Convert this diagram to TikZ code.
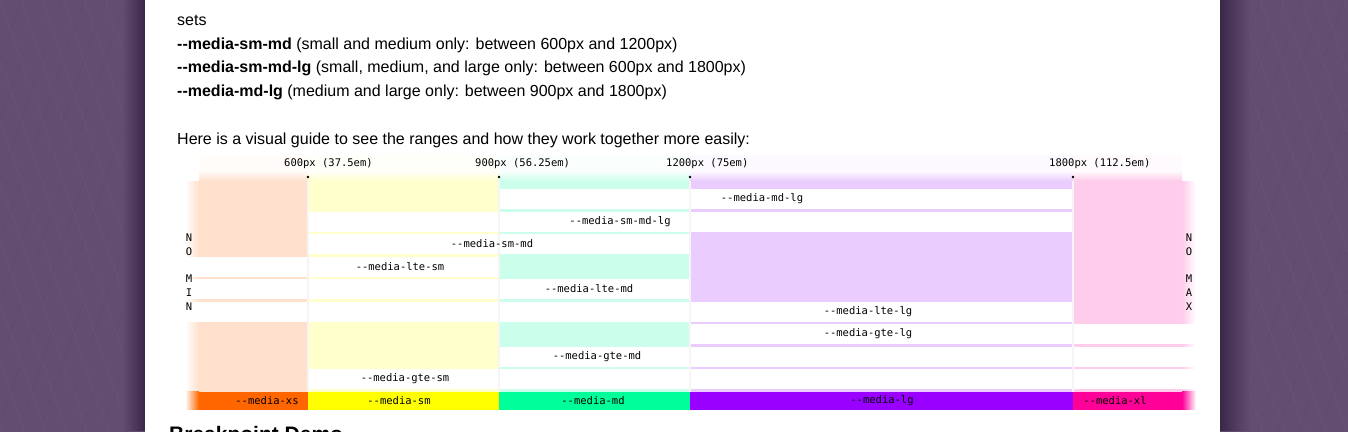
\documentclass[tikz,border=0pt]{standalone}
\usepackage{fontspec}
\setmainfont{Liberation Sans}[Ligatures=TeXOff]
\newfontfamily\monofont{DejaVu Sans Mono}[Ligatures=TeXOff]
\usetikzlibrary{positioning}

\definecolor{bgpurple}{HTML}{634E71}
\definecolor{bgdark}{HTML}{3B2849}
\definecolor{cxs}{HTML}{FF6600}
\definecolor{csm}{HTML}{FFFF00}
\definecolor{cmd}{HTML}{00FF99}
\definecolor{clg}{HTML}{9900FF}
\definecolor{cxl}{HTML}{FF0099}

\begin{document}
\begin{tikzpicture}[x=1pt, y=-1pt,
    body/.style={anchor=base west, inner sep=0pt, font=\fontsize{16}{19}\selectfont},
    mq/.style={inner sep=0pt, font=\monofont\fontsize{10.5}{13.8}\selectfont}]
    \useasboundingbox (0,0) rectangle (1348,431);
    \clip (0,0) rectangle (1348,431);

    % 背景
    \fill[bgpurple] (-5,-5) rectangle (1353,436);
    \begin{scope}
      \clip (0,0) rectangle (145,431) (1220,0) rectangle (1348,431);
      \foreach \i in {-10,...,70} {
        \draw[white, opacity=0.05] (\i*21,0) -- ++(150,431);
        \draw[black, opacity=0.05] (\i*21,0) -- ++(-150,431);
      }
      \shade[left color=bgpurple, right color=bgdark] (122,-5) rectangle (145,436);
      \shade[left color=bgdark, right color=bgpurple] (1220,-5) rectangle (1250,436);
    \end{scope}
    \fill[white] (145,-5) rectangle (1220,436);

    % 本文
    \node[body] (sets) at (177,25) {sets};
    \node[body] (smmdtxt) at (177,49) {\textbf{--media-sm-md} (small and medium only: between 600px and 1200px)};
    \node[body] (smmdlgtxt) at (177,72.5) {\textbf{--media-sm-md-lg} (small, medium, and large only: between 600px and 1800px)};
    \node[body] (mdlgtxt) at (177,96.5) {\textbf{--media-md-lg} (medium and large only: between 900px and 1800px)};
    \node[body] (guide) at (177,144) {Here is a visual guide to see the ranges and how they work together more easily:};

    % 列
    \foreach \a/\b/\c in {199/308/cxs, 308/499/csm, 499/690/cmd, 690/1073/clg, 1073/1182/cxl} {
      \fill[\c!2] (\a,155) rectangle (\b,171);
      \shade[top color=\c!2, bottom color=\c!20] (\a,171) rectangle (\b,181);
      \fill[\c!20] (\a,181) rectangle (\b,391.5);
      \fill[\c] (\a,391.5) rectangle (\b,409.5);
    }
    \shade[left color=white, right color=cxs!20] (185,181) rectangle (199,391.5);
    \shade[left color=white, right color=cxs] (185,391.5) rectangle (199,409.5);
    \shade[left color=cxl!20, right color=white] (1182,181) rectangle (1196,391.5);
    \shade[left color=cxl, right color=white] (1182,391.5) rectangle (1196,409.5);

    % 行
    \foreach \r/\a/\b in {1/499/1073, 2/308/1073, 3/308/690, 4/185/499, 5/185/690,
                          6/185/1073, 7/690/1196, 8/499/1196, 9/308/1196}
      \fill[white] (\a,166.5+22.5*\r) rectangle (\b,186.5+22.5*\r);
    \foreach \x in {308,499,690,1073}
      \draw[black!4, line width=1.5pt] (\x,181) -- (\x,391.5);

    % 区切り
    \foreach \x/\t/\n in {308/600px (37.5em)/b600, 499/900px (56.25em)/b900,
                          690/1200px (75em)/b1200, 1073/1800px (112.5em)/b1800} {
      \node[mq, anchor=west] (\n) at (\x-24,164) {\t};
      \fill (\x,177) circle (1.4);
    }

    % ラベル
    \node[mq] (mdlg) at (762,199) {--media-md-lg};
    \node[mq] (smmdlg) at (620,221.5) {--media-sm-md-lg};
    \node[mq] (smmd) at (492,244) {--media-sm-md};
    \node[mq] (ltesm) at (400,266.5) {--media-lte-sm};
    \node[mq] (ltemd) at (589,289) {--media-lte-md};
    \node[mq] (ltelg) at (868,311.5) {--media-lte-lg};
    \node[mq] (gtelg) at (868,334) {--media-gte-lg};
    \node[mq] (gtemd) at (597,356.5) {--media-gte-md};
    \node[mq] (gtesm) at (405,379) {--media-gte-sm};

    \node[mq] (xs) at (267,400.5) {--media-xs};
    \node[mq] (sm) at (399,400.5) {--media-sm};
    \node[mq] (md) at (593,400.5) {--media-md};
    \node[mq] (lg) at (882,400.5) {--media-lg};
    \node[mq] (xl) at (1115,400.5) {--media-xl};

    \node[mq, align=center] (nomin) at (189,272) {N\\O\\[13.8pt]M\\I\\N};
    \node[mq, align=center] (nomax) at (1189,272) {N\\O\\[13.8pt]M\\A\\X};

    % 見出し
    \node[anchor=base west, inner sep=0pt, font=\bfseries\fontsize{21}{24}\selectfont] (demo) at (169,441) {Breakpoint Demo};
\end{tikzpicture}
\end{document}
